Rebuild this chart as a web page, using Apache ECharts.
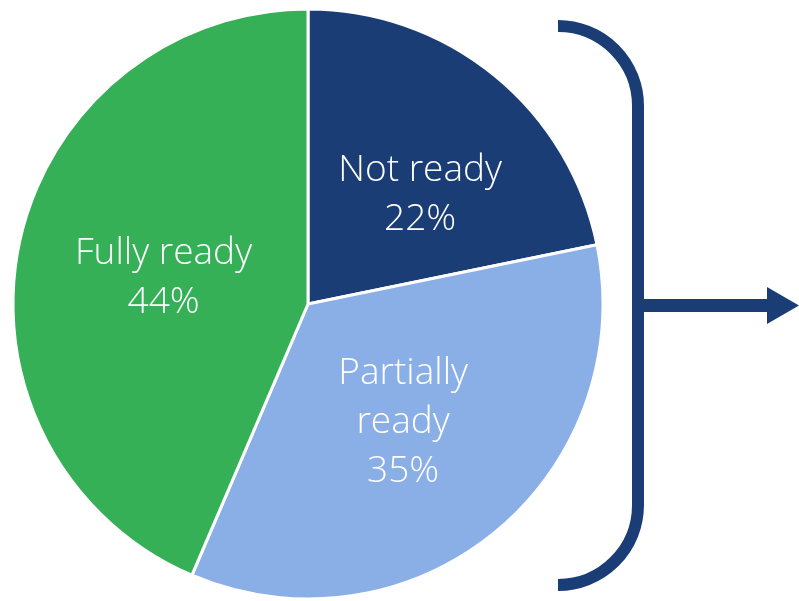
<!DOCTYPE html>
<html>
<head>
<meta charset="utf-8">
<script src="https://cdn.jsdelivr.net/npm/echarts@6/dist/echarts.min.js"></script>
<style>
html,body{margin:0;padding:0;background:#fff;}
#chart{width:799px;height:601px;}
</style>
</head>
<body>
<div id="chart"></div>
<script>
var categories = ['Not ready', 'Partially ready', 'Fully ready'];
var labelTexts = ['Not ready', 'Partially\nready', 'Fully ready'];
var values = [22, 35, 44];
var colors = ['#1b3d76', '#8aaee6', '#35b056'];

var labelOffsets = [[17, 8], [0, 2], [3, 4]];

var chart = echarts.init(document.getElementById('chart'), null, {renderer: 'canvas'});
var data = categories.map(function (c, i) {
  return {
    name: c,
    value: values[i],
    itemStyle: {color: colors[i]},
    label: {offset: labelOffsets[i]}
  };
});

var navy = '#1b3d76';
chart.setOption({
  animation: false,
  backgroundColor: '#ffffff',
  series: [{
    type: 'pie',
    center: [308, 304],
    radius: [0, 295],
    startAngle: 90,
    clockwise: true,
    avoidLabelOverlap: false,
    itemStyle: {borderColor: '#ffffff', borderWidth: 3},
    label: {
      show: true,
      position: 'inside',
      color: '#ffffff',
      fontFamily: 'Open Sans',
      fontWeight: 300,
      fontSize: 37,
      lineHeight: 49,
      align: 'center',
      formatter: function (p) {
        return labelTexts[p.dataIndex] + '\n' + p.value + '%';
      }
    },
    labelLine: {show: false},
    emphasis: {disabled: true},
    data: data
  }],
  graphic: [
    {
      type: 'arc',
      shape: {cx: 558, cy: 106, r: 80, startAngle: -Math.PI / 2, endAngle: 0, clockwise: true},
      style: {fill: null, stroke: navy, lineWidth: 12}
    },
    {
      type: 'line',
      shape: {x1: 638, y1: 105, x2: 638, y2: 506},
      style: {stroke: navy, lineWidth: 12}
    },
    {
      type: 'arc',
      shape: {cx: 558, cy: 505, r: 80, startAngle: 0, endAngle: Math.PI / 2, clockwise: true},
      style: {fill: null, stroke: navy, lineWidth: 12}
    },
    {
      type: 'line',
      shape: {x1: 638, y1: 305.5, x2: 770, y2: 305.5},
      style: {stroke: navy, lineWidth: 13}
    },
    {
      type: 'polygon',
      shape: {points: [[767, 287], [799, 305.5], [767, 324]]},
      style: {fill: navy}
    }
  ]
});
</script>
</body>
</html>
